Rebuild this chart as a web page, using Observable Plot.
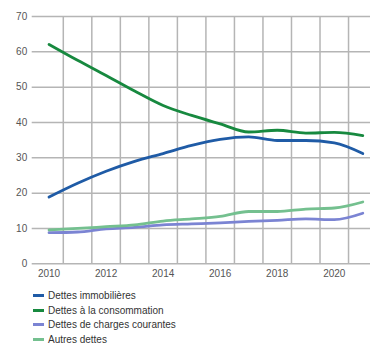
<!DOCTYPE html>
<html><head><meta charset="utf-8">
<script src="https://cdn.jsdelivr.net/npm/d3@7"></script>
<script src="https://cdn.jsdelivr.net/npm/@observablehq/plot@0.6"></script>
<style>
body{margin:0;background:#fff;font-family:"Liberation Sans",Arial,sans-serif;}
#legend{margin-left:33px;margin-top:3px;font-size:10px;color:#333;}
#legend .it{display:flex;align-items:center;height:14.8px;}
#legend .sw{width:11px;height:3px;margin-right:4px;}
</style></head><body>
<div id="chart"></div>
<div id="legend"></div>
<script>
const years = [2010,2011,2012,2013,2014,2015,2016,2017,2018,2019,2020,2021];
const seriesNames = ["Dettes immobilières","Dettes à la consommation","Dettes de charges courantes","Autres dettes"];
const immobilieres = [18.9,22.8,26.2,29.0,31.2,33.5,35.2,35.9,34.9,34.9,34.2,31.2];
const consommation = [62.1,57.6,53.3,48.9,44.8,42.0,39.6,37.3,37.8,37.0,37.2,36.3];
const chargesCourantes = [8.8,9.0,9.9,10.3,11.0,11.3,11.6,12.0,12.3,12.7,12.5,14.3];
const autres = [9.6,10.0,10.5,11.0,12.1,12.7,13.4,14.8,14.8,15.5,15.8,17.5];
const colors = ["#1f5ba6","#17893f","#7b84d3","#74c08f"];
const yTicks = [0,10,20,30,40,50,60,70];
const xTicks = [2010,2012,2014,2016,2018,2020];
const xGrid = [2010.5,2011.5,2012.5,2013.5,2014.5,2015.5,2016.5,2017.5,2018.5,2019.5,2020.5];

const allValues = [immobilieres, consommation, chargesCourantes, autres];
const data = [];
allValues.forEach((vals, i) => vals.forEach((v, j) => data.push({year: years[j], value: v, series: seriesNames[i]})));

const plot = Plot.plot({
  width: 371, height: 285,
  marginLeft: 31.7, marginRight: 1, marginTop: 16, marginBottom: 21.7,
  x: {domain: [2009.41, 2021.27], axis: null},
  y: {domain: [0, 70], axis: null},
  color: {domain: seriesNames, range: colors},
  style: {fontFamily: "Liberation Sans, Arial, sans-serif", fontSize: "10px"},
  marks: [
    Plot.ruleX(xGrid, {y1: 0, y2: 70, stroke: "#b5b5b5", strokeWidth: 1.5}),
    Plot.ruleY(yTicks, {stroke: "#b5b5b5", strokeWidth: 1.5}),
    Plot.text(yTicks, {x: 2009.41, y: d => d, text: d => String(d), textAnchor: "end", dx: -5, fill: "#555", fontSize: 10}),
    Plot.text(xTicks, {x: d => d, y: 0, text: d => String(d), dy: 10, fill: "#555", fontSize: 10}),
    Plot.line(data, {x: "year", y: "value", z: "series", stroke: "series", strokeWidth: 2.8, curve: "monotone-x"})
  ]
});
document.getElementById("chart").appendChild(plot);
const lg = document.getElementById("legend");
seriesNames.forEach((n, i) => {
  const d = document.createElement("div"); d.className = "it";
  d.innerHTML = `<span class="sw" style="background:${colors[i]}"></span><span>${n}</span>`;
  lg.appendChild(d);
});
</script>
</body></html>
